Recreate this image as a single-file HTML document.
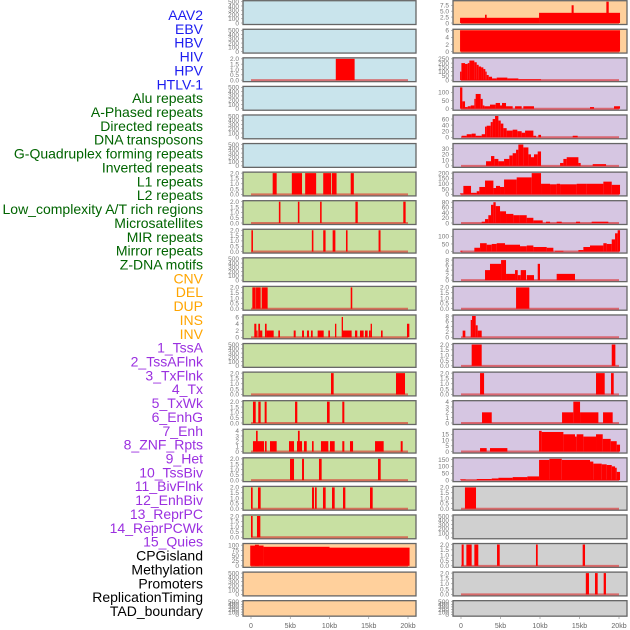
<!DOCTYPE html>
<html><head><meta charset="utf-8"><style>
html,body{margin:0;padding:0;background:#fff;}
svg{display:block;font-family:"Liberation Sans",sans-serif;}
</style></head><body>
<svg id="chart" width="630" height="630" viewBox="0 0 630 630" xmlns="http://www.w3.org/2000/svg"></svg>
<script>
const trackLabels = ["AAV2","EBV","HBV","HIV","HPV","HTLV-1","Alu repeats","A-Phased repeats","Directed repeats","DNA transposons","G-Quadruplex forming repeats","Inverted repeats","L1 repeats","L2 repeats","Low_complexity A/T rich regions","Microsatellites","MIR repeats","Mirror repeats","Z-DNA motifs","CNV","DEL","DUP","INS","INV","1_TssA","2_TssAFlnk","3_TxFlnk","4_Tx","5_TxWk","6_EnhG","7_Enh","8_ZNF_Rpts","9_Het","10_TssBiv","11_BivFlnk","12_EnhBiv","13_ReprPC","14_ReprPCWk","15_Quies","CPGisland","Methylation","Promoters","ReplicationTiming","TAD_boundary"];
const labelGroups = [6,13,5,15,5];
const groupColors = ["#1c1cf0","#006400","#ffa500","#9b30e0","#000000"];
const xTicks = [0,5,10,15,20];
const xTickLabels = ["0","5kb","10kb","15kb","20kb"];
const emptyTicks = [0,100,200,300,400,500];
const t2 = [0,0.5,1.0,1.5,2.0];
const t2L = ["0.0","0.5","1.0","1.5","2.0"];

// left column data: [startKb, endKb, value]
const L2 = [[10.8,13.2,2]];
const L6 = [[2.76,3.27,2],[5.2,6.5,2],[6.9,8.3,2],[9.2,10.2,2],[10.3,10.9,2],[12.7,13.1,2]];
const L7 = [[3.55,3.75,2],[5.97,6.17,2],[8.8,9.0,2],[13.3,13.6,2],[19.4,19.7,2]];
const L8 = [[0.05,0.25,2],[7.75,7.95,2],[9.2,9.5,2],[10.4,10.75,2],[12.1,12.3,2],[16.25,16.5,2]];
const L10 = [[0.17,0.6,2],[0.64,1.23,2],[1.36,2.12,2],[12.7,12.9,2]];
const L11 = [[0.42,0.68,4],[0.68,0.81,2],[0.93,1.15,4],[1.15,1.44,2],[1.78,1.99,4],[1.99,2.89,2],[3.48,3.69,2],[5.44,5.69,2],[6.5,6.75,2],[7.13,7.39,2],[7.64,7.86,2],[8.49,9.26,2],[9.85,10.06,2],[10.7,10.87,4],[11.55,11.72,6],[11.72,12.82,2],[13.25,13.54,2],[13.88,14.35,2],[14.52,14.86,2],[15.03,15.24,2],[15.24,15.41,4],[16.56,16.77,2],[19.87,20.17,4]];
const L13 = [[10.19,10.53,2],[18.47,19.62,2]];
const L14 = [[0.25,0.6,2],[0.93,1.23,2],[1.74,1.99,2],[5.61,5.9,2],[9.68,10.02,2],[11.63,11.89,2]];
const L15 = [[0.25,1.66,2],[0.64,0.85,4],[1.78,1.99,2],[2.42,3.27,2],[4.84,5.48,2],[5.86,6.5,2],[5.98,6.2,4],[6.75,7.1,2],[7.77,7.98,2],[8.91,9.85,2],[10.06,10.66,2],[11.63,11.89,2],[12.61,13.0,2],[15.8,16.9,2],[19.07,19.32,2]];
const L16 = [[4.97,5.48,2],[6.5,6.75,2],[8.66,9.0,2],[16.18,16.52,2]];
const L17 = [[0.0,0.21,2],[0.89,1.23,2],[7.77,8.03,2],[8.15,8.37,2],[9.17,9.51,2],[10.32,10.66,2],[11.72,12.02,2],[15.16,15.5,2]];
const L18 = [[0.0,0.21,2],[0.76,1.19,2]];
const L19 = [[-0.1,1.6,98],[0.5,1.0,102],[1.6,10,92],[10,20.2,88]];

// right column data
const R0 = [[-0.12,9.88,2.2],[9.88,20.13,4.3],[3.04,3.25,3.5],[14.0,14.26,7.5],[18.4,18.7,9]];
const R1 = [[-0.12,20.13,6]];
const R2 = [[-0.12,0.05,100],[0.05,0.51,200],[0.51,0.85,190],[0.85,1.06,200],[1.06,1.69,230],[1.69,1.99,210],[1.99,2.24,180],[2.24,2.54,160],[2.54,2.83,150],[2.83,3.08,130],[3.08,3.25,100],[3.25,3.51,60],[3.51,3.93,40],[3.93,4.52,20],[4.52,5.87,30],[5.87,7.26,20],[7.26,10.13,10]];
const R3 = [[-0.12,0.17,130],[0.17,0.51,45],[0.51,0.85,10],[0.85,1.23,15],[1.23,1.69,20],[1.69,1.86,60],[1.86,2.49,90],[2.49,2.75,60],[2.75,2.96,20],[2.96,3.67,15],[3.67,4.39,25],[4.39,4.94,35],[4.94,5.19,20],[5.19,5.7,35],[5.7,6.54,15],[6.84,7.68,15],[7.89,9.24,15],[16.33,16.84,10],[19.37,20.13,15]];
const R4 = [[0.09,0.72,5],[0.72,1.35,10],[1.35,1.86,12],[1.86,2.62,5],[2.62,3.04,10],[3.04,3.25,35],[3.25,3.76,38],[3.76,4.01,50],[4.01,4.31,60],[4.31,4.73,70],[4.73,5.03,55],[5.03,5.36,45],[5.36,5.78,30],[5.78,6.54,22],[6.54,7.13,25],[7.13,7.68,20],[7.68,8.11,15],[8.11,9.16,22],[9.16,9.5,5],[9.79,10.13,8],[14.14,14.77,5]];
const R5 = [[3.17,3.8,8],[3.8,4.22,17],[4.22,4.73,12],[4.73,5.45,8],[5.45,6.12,12],[6.12,6.54,18],[6.54,6.97,22],[6.97,7.26,28],[7.26,7.89,37],[7.89,8.53,32],[8.53,8.86,20],[8.86,9.24,15],[9.24,9.71,20],[9.71,10.13,25],[12.54,12.96,5],[12.96,13.38,12],[13.38,14.86,15],[14.86,15.15,5],[16.67,18.36,3]];
const R6 = [[-0.12,0.3,10],[0.3,1.27,80],[1.27,1.99,15],[1.99,2.32,30],[2.32,3.04,70],[3.04,4.1,130],[4.1,4.43,60],[4.43,4.94,80],[4.94,5.45,70],[5.45,7.05,140],[7.05,8.95,160],[8.95,10.13,200],[10.13,11.27,100],[11.27,12.11,95],[12.11,12.54,100],[12.54,14.64,95],[14.64,15.91,100],[15.91,18.02,100],[18.02,19.08,120],[19.08,20.13,90]];
const R7 = [[2.62,3.04,5],[3.04,3.46,15],[3.46,3.8,30],[3.8,4.1,70],[4.1,4.39,80],[4.39,4.94,65],[4.94,5.7,45],[5.7,6.63,35],[6.63,7.39,30],[7.39,8.32,30],[8.32,9.16,20],[9.16,10.34,10],[10.76,11.27,5],[12.11,12.75,5],[14.56,15.07,5],[16.54,18.65,5]];
const R8 = [[-0.12,0.17,5],[1.69,2.41,25],[2.41,3.25,55],[3.25,3.89,45],[3.89,4.52,50],[4.52,5.57,55],[5.57,7.47,45],[7.47,8.32,35],[8.32,9.16,40],[9.16,10.85,30],[10.85,11.69,25],[11.9,12.96,5],[14.86,15.49,10],[15.49,16.33,30],[16.33,18.02,40],[18.02,18.44,55],[18.44,19.08,50],[19.08,19.5,80],[19.5,19.83,120],[19.83,20.13,140]];
const R9 = [[3.04,3.67,4],[3.67,5.07,6.5],[5.07,5.7,8],[5.7,6.84,2.5],[6.84,7.18,4],[7.18,7.56,2],[7.56,8.23,4],[8.32,9.24,2],[9.71,10.0,6.5],[12.11,14.43,2.5]];
const R10 = [[6.97,8.65,2]];
const R11 = [[0.21,0.55,2.5],[1.23,1.4,6.5],[1.4,1.86,8],[1.86,2.11,4.5],[2.11,2.62,2.5]];
const R12 = [[1.35,2.62,2],[19.08,19.54,2]];
const R13 = [[2.41,2.92,2],[17.09,18.19,2],[18.99,19.33,2]];
const R14 = [[2.66,3.89,2],[12.79,14.22,2],[14.22,15.07,4],[15.07,17.39,2],[17.98,19.2,2]];
const R15 = [[2.41,3.25,3],[3.67,5.87,3],[9.88,10.21,18],[10.21,12.96,17],[12.96,14.43,15],[14.43,14.64,13],[14.64,15.49,15],[15.49,17.09,13],[17.09,17.94,15],[17.94,18.95,11],[18.95,19.71,9],[19.71,20.13,6]];
const R16 = [[-0.12,0.6,5],[0.6,1.99,2],[1.99,3.89,8],[3.89,4.73,12],[4.73,6.54,17],[6.54,8.4,22],[8.4,9.88,27],[9.88,11.19,147],[11.19,12.75,155],[12.75,16.33,147],[16.33,16.75,135],[16.75,17.81,120],[17.81,18.44,115],[18.44,19.08,110],[19.08,19.5,100],[19.5,19.71,90],[19.71,20.13,60]];
const R17 = [[0.5,1.9,2]];
const R19 = [[0.08,0.34,2],[0.68,1.35,2],[1.69,2.19,2],[4.56,4.9,2],[9.49,9.71,2],[15.4,15.7,2]];
const R20 = [[15.8,16.2,2],[16.96,17.3,2],[18.06,18.35,2]];

const BLUE="#c9e4ec", GREEN="#c8e0a2", ORANGE="#ffd09c", PURPLE="#d6c6e2", GRAY="#d0d0d0";
function P(col,row,bg,ymax,ticks,tickLabels,data,name){return {col,row,bg,ymax,ticks,tickLabels,data,name};}
const E = null;
const panels = [
 P(0,0,BLUE,500,emptyTicks,null,E,"aav2"),P(0,1,BLUE,500,emptyTicks,null,E,"ebv"),
 P(0,2,BLUE,2,t2,t2L,L2,"hbv"),P(0,3,BLUE,500,emptyTicks,null,E,"hiv"),
 P(0,4,BLUE,500,emptyTicks,null,E,"hpv"),P(0,5,BLUE,500,emptyTicks,null,E,"htlv"),
 P(0,6,GREEN,2,t2,t2L,L6,"l6"),P(0,7,GREEN,2,t2,t2L,L7,"l7"),P(0,8,GREEN,2,t2,t2L,L8,"l8"),
 P(0,9,GREEN,500,emptyTicks,null,E,"l9"),P(0,10,GREEN,2,t2,t2L,L10,"l10"),
 P(0,11,GREEN,6.3,[0,2,4,6],null,L11,"l11"),P(0,12,GREEN,500,emptyTicks,null,E,"l12"),
 P(0,13,GREEN,2,t2,t2L,L13,"l13"),P(0,14,GREEN,2,t2,t2L,L14,"l14"),
 P(0,15,GREEN,4.1,[0,1,2,3,4],null,L15,"l15"),P(0,16,GREEN,2,t2,t2L,L16,"l16"),
 P(0,17,GREEN,2,t2,t2L,L17,"l17"),P(0,18,GREEN,2,t2,t2L,L18,"l18"),
 P(0,19,ORANGE,103,[0,25,50,75,100],null,L19,"l19"),P(0,20,ORANGE,500,emptyTicks,null,E,"l20"),
 P(0,21,ORANGE,500,emptyTicks,null,E,"l21"),
 P(1,0,ORANGE,9,[0,2.5,5,7.5],["0","2.5","5.0","7.5"],R0,"r0"),P(1,1,ORANGE,6,[0,2,4,6],null,R1,"r1"),
 P(1,2,PURPLE,250,[0,50,100,150,200,250],null,R2,"r2"),P(1,3,PURPLE,130,[0,50,100],null,R3,"r3"),
 P(1,4,PURPLE,70,[0,20,40,60],null,R4,"r4"),P(1,5,PURPLE,37,[0,10,20,30],null,R5,"r5"),
 P(1,6,PURPLE,200,[0,50,100,150,200],null,R6,"r6"),P(1,7,PURPLE,82,[0,20,40,60,80],null,R7,"r7"),
 P(1,8,PURPLE,140,[0,50,100],null,R8,"r8"),P(1,9,PURPLE,8.5,[0,2,4,6,8],null,R9,"r9"),
 P(1,10,PURPLE,2,t2,t2L,R10,"r10"),P(1,11,PURPLE,8,[0,2,4,6,8],null,R11,"r11"),
 P(1,12,PURPLE,2,t2,t2L,R12,"r12"),P(1,13,PURPLE,2,t2,t2L,R13,"r13"),
 P(1,14,PURPLE,4,[0,1,2,3,4],null,R14,"r14"),P(1,15,PURPLE,18.5,[0,5,10,15],null,R15,"r15"),
 P(1,16,PURPLE,155,[0,50,100,150],null,R16,"r16"),P(1,17,GRAY,2,t2,t2L,R17,"r17"),
 P(1,18,GRAY,500,emptyTicks,null,E,"r18"),P(1,19,GRAY,2,t2,t2L,R19,"r19"),
 P(1,20,GRAY,2,t2,t2L,R20,"r20"),P(1,21,GRAY,500,emptyTicks,null,E,"r21")
];

const svg = document.getElementById('chart');
const NS = "http://www.w3.org/2000/svg";
function mk(tag, attrs, parent){const e=document.createElementNS(NS,tag);for(const k in attrs)e.setAttribute(k,attrs[k]);(parent||svg).appendChild(e);return e;}
const colGeom = [{x0:243,x1:416,z:251,s:7.85},{x0:453,x1:627,z:461,s:7.9}];
function xScale(col,kb){return colGeom[col].z + kb*colGeom[col].s;}

// labels
let li=0;
labelGroups.forEach((n,g)=>{for(let k=0;k<n;k++){
  const t=mk('text',{x:203,y:15+li*13.86+5,'text-anchor':'end','font-size':'14',fill:groupColors[g]});
  
  
  t.textContent=trackLabels[li]; li++;}});

panels.forEach(p=>{
  const g=colGeom[p.col];
  const top=p.row*28.57+0.7;
  const h = p.row===21?15.5:23.8;
  const bottom=top+h;
  const y0=bottom-1.5, y1=top+1;
  const yS=v=>y0-(v/p.ymax)*(y0-y1);
  const grp=mk('g',{});
  
  
  const r=mk('rect',{x:g.x0,y:top,width:g.x1-g.x0,height:h,fill:p.bg,stroke:'#666','stroke-width':'1.3'},grp);
  
  
  if(p.data){
    const bl=mk('line',{x1:xScale(p.col,0),x2:xScale(p.col,20),y1:y0,y2:y0,stroke:'rgba(220,40,40,0.6)','stroke-width':'2'},grp);
    
    
    p.data.forEach(d=>{
      const xa=xScale(p.col,d[0]), xb=xScale(p.col,d[1]);
      const b=mk('rect',{x:xa,y:yS(d[2]),width:Math.max(1.2,xb-xa),height:y0-yS(d[2]),fill:'#ff0000'},grp);
      
      
    });
  }
  p.ticks.forEach((tv,i)=>{
    const y=yS(tv);
    mk('line',{x1:g.x0-2,x2:g.x0,y1:y,y2:y,stroke:'#888','stroke-width':'0.6'},grp);
    const t=mk('text',{x:g.x0-4,y:y+2.3,'text-anchor':'end','font-size':'6.5',fill:'#777'},grp);
    
    
    t.textContent=p.tickLabels?p.tickLabels[i]:String(tv);
  });
});

[0,1].forEach(col=>{
  xTicks.forEach((kb,i)=>{
    const x=xScale(col,kb);
    mk('line',{x1:x,x2:x,y1:617,y2:619,stroke:'#888','stroke-width':'0.6'});
    const t=mk('text',{x:x,y:628,'text-anchor':'middle','font-size':'7',fill:'#666'});
    
    
    t.textContent=xTickLabels[i];
  });
});
</script>
</body></html>
